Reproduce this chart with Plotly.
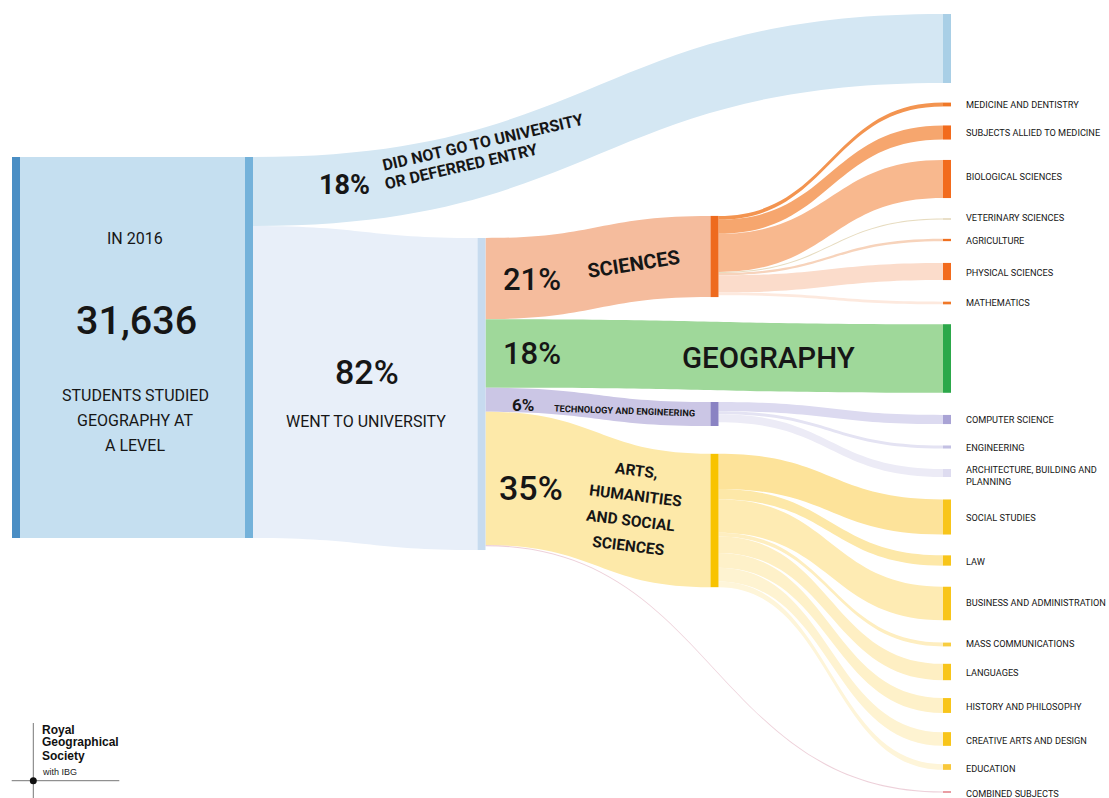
import plotly.graph_objects as go

W, H = 1109, 798

# ---------------- data (share of the 31,636 A-level geography students, %) ----------------
total_students = "31,636"
cohort_total = 100.0
did_not_go = 18.1
went_to_university = 81.9

uni_groups = ["Sciences", "Geography", "Technology and engineering",
              "Arts, humanities and social sciences", "Combined subjects"]
uni_group_values = [21.3, 18.0, 6.3, 35.0, 0.3]

science_subjects = ["MEDICINE AND DENTISTRY", "SUBJECTS ALLIED TO MEDICINE", "BIOLOGICAL SCIENCES",
                    "VETERINARY SCIENCES", "AGRICULTURE", "PHYSICAL SCIENCES", "MATHEMATICS"]
science_values = [1.0, 3.7, 10.0, 0.3, 0.6, 4.5, 0.7]

tech_subjects = ["COMPUTER SCIENCE", "ENGINEERING", "ARCHITECTURE, BUILDING AND<br>PLANNING"]
tech_values = [2.4, 0.8, 2.1]

arts_subjects = ["SOCIAL STUDIES", "LAW", "BUSINESS AND ADMINISTRATION", "MASS COMMUNICATIONS",
                 "LANGUAGES", "HISTORY AND PHILOSOPHY", "CREATIVE ARTS AND DESIGN", "EDUCATION"]
arts_values = [9.2, 2.7, 8.8, 1.0, 4.3, 3.9, 3.6, 1.5]

# ---------------- graph structure ----------------
A, B, DNG, UNI, SCI, GEO, TECH, ARTS, COMB = range(9)
sci0 = 9
tech0 = sci0 + len(science_subjects)
arts0 = tech0 + len(tech_subjects)
n_nodes = arts0 + len(arts_subjects)

src, tgt, val = [], [], []
def add(s, t, v):
    src.append(s); tgt.append(t); val.append(v)

add(A, B, cohort_total)
add(B, DNG, did_not_go)
add(B, UNI, went_to_university)
for t, v in zip([SCI, GEO, TECH, ARTS, COMB], uni_group_values):
    add(UNI, t, v)
for i, v in enumerate(science_values):
    add(SCI, sci0 + i, v)
for i, v in enumerate(tech_values):
    add(TECH, tech0 + i, v)
for i, v in enumerate(arts_values):
    add(ARTS, arts0 + i, v)

# ---------------- layout / style (pixels) ----------------
col_x = {"A": 16, "B": 249, "UNI": 481.5, "MID": 714.5, "END": 947}
node_xpx = [col_x["A"], col_x["B"], col_x["END"], col_x["UNI"], col_x["MID"], col_x["END"],
            col_x["MID"], col_x["MID"], col_x["END"]] + [col_x["END"]] * (n_nodes - 9)
node_ypx = [347.5, 347.5, 48.5, 394, 256.5, 358.5, 414, 520.5, 792,
            104.5, 132.5, 179, 219, 240, 271.5, 303,
            419.5, 447, 473,
            517, 560.5, 603.5, 644.5, 672, 705.5, 739, 767]

node_colors = ["#4a8ec4", "#74b2da", "#a9cfe6", "#c7dbef", "#ee6a1e", "#2ca84a", "#8a83c3", "#f8c300", "#d9535f",
               "#f07828", "#f26b1d", "#f26b1d", "#d8c8a0", "#f07020", "#f26b1d", "#f07828",
               "#a9a3d5", "#c3c0e3", "#dedcf0",
               "#f8c51a", "#f8c51a", "#f8c51a", "#f8cd40", "#f8c51a", "#f8c51a", "#f8c51a", "#f8c83a"]

link_colors = ["#c5dff0", "#d4e7f3", "#e8eff9",
               "#f5bc9d", "#9fd89a", "#cbc6e5", "#fde9a9", "rgba(215,150,170,0.45)",
               "#f39450", "#f6a66e", "#f8b88e", "#e7dcc0", "#f7d3bb", "#fbdccb", "#fde9de",
               "#dcdaf0", "#e4e3f3", "#ecebf6",
               "#fde39a", "#fde8a8", "#feebb3", "#feeec0", "#feefc3", "#fef1c9", "#fef3d1", "#fef5d9"]

# node scale: the sink column (21 nodes) sets px-per-unit; choose the pad so 100% = 381 px
ky = 381 / cohort_total
sink_sum = did_not_go + sum(science_values) + uni_group_values[1] + sum(tech_values) + sum(arts_values) + uni_group_values[4]
pad = (H - ky * sink_sum) / 20

fig = go.Figure(go.Sankey(
    arrangement="fixed",
    domain=dict(x=[0, 1], y=[0, 1]),
    node=dict(
        label=[""] * n_nodes,
        x=[x / W for x in node_xpx],
        y=[y / H for y in node_ypx],
        pad=pad,
        thickness=8,
        color=node_colors,
        line=dict(width=0),
        hoverinfo="none",
    ),
    link=dict(source=src, target=tgt, value=val, color=link_colors, hoverinfo="none"),
    textfont=dict(size=1, color="rgba(0,0,0,0)"),
))

FONT = "Roboto, sans-serif"
INK = "#161616"

def ann(text, x, y, size, bold=False, angle=0, align="center", xanchor="center",
        color=INK, family=FONT, weight=None):
    w = weight if weight is not None else ("bold" if bold else "normal")
    return dict(text=text, x=x / W, y=1 - y / H, xref="paper", yref="paper", showarrow=False,
                font=dict(size=size, family=family, color=color, weight=w),
                textangle=angle, align=align, xanchor=xanchor, yanchor="middle")

annotations = [
    ann("IN 2016", 135, 238, 16),
    ann(total_students, 136, 321, 39.5, weight=500),
    ann("STUDENTS STUDIED", 135, 395, 16),
    ann("GEOGRAPHY AT", 135, 420, 16),
    ann("A LEVEL", 135, 445, 16),
    ann("82%", 367, 372, 34, weight=500),
    ann("WENT TO UNIVERSITY", 366, 421, 16),
    ann("18%", 344, 185, 27, bold=True),
    ann("DID NOT GO TO UNIVERSITY", 482, 142, 16, bold=True, angle=-13),
    ann("OR DEFERRED ENTRY", 461, 166, 16, bold=True, angle=-13),
    ann("21%", 532, 279, 31, weight=500),
    ann("SCIENCES", 633, 264, 20, bold=True, angle=-9),
    ann("18%", 532, 354, 31, weight=500),
    ann("GEOGRAPHY", 768, 358, 29.5, weight=500),
    ann("6%", 523, 405, 17, bold=True),
    ann("TECHNOLOGY AND ENGINEERING", 624.5, 410.5, 9.2, bold=True, angle=2),
    ann("35%", 531, 488, 34, weight=500),
    ann("ARTS,", 636.5, 471, 15.5, bold=True, angle=7),
    ann("HUMANITIES", 635, 495.5, 15.5, bold=True, angle=7),
    ann("AND SOCIAL", 631, 521, 15.5, bold=True, angle=7),
    ann("SCIENCES", 627.5, 546, 15.5, bold=True, angle=7),
]

LBL = 9.2
label_y_sci = [104, 132, 177, 218, 240, 272, 302]
label_y_tech = [419, 447, 475]
label_y_arts = [517, 561, 602, 643, 672, 706, 740, 768]
for name, y in zip(science_subjects, label_y_sci):
    annotations.append(ann(name, 964, y, LBL, xanchor="left", align="left"))
for name, y in zip(tech_subjects, label_y_tech):
    annotations.append(ann(name, 964, y, LBL, xanchor="left", align="left"))
for name, y in zip(arts_subjects, label_y_arts):
    annotations.append(ann(name, 964, y, LBL, xanchor="left", align="left"))
annotations.append(ann("COMBINED SUBJECTS", 964, 793, LBL, xanchor="left", align="left"))

LOGO = "Liberation Sans, Arial, sans-serif"
annotations += [
    ann("Royal", 40, 729.5, 12, bold=True, xanchor="left", align="left", family=LOGO, color="#111"),
    ann("Geographical", 40, 742, 12, bold=True, xanchor="left", align="left", family=LOGO, color="#111"),
    ann("Society", 40, 755.5, 12, bold=True, xanchor="left", align="left", family=LOGO, color="#111"),
    ann("with IBG", 40, 772, 9, xanchor="left", align="left", family=LOGO, color="#222"),
]

def px(x): return x / W
def py(y): return 1 - y / H

shapes = [
    dict(type="line", xref="paper", yref="paper", x0=px(33.3), x1=px(33.3), y0=py(723), y1=py(798),
         line=dict(color="#777", width=1)),
    dict(type="line", xref="paper", yref="paper", x0=px(11.7), x1=px(119.3), y0=py(780.7), y1=py(780.7),
         line=dict(color="#777", width=1)),
    dict(type="circle", xref="paper", yref="paper", x0=px(29.8), x1=px(36.8), y0=py(784.2), y1=py(777.2),
         fillcolor="#111", line=dict(width=0)),
]

fig.update_layout(
    width=W, height=H,
    margin=dict(l=0, r=0, t=0, b=0),
    paper_bgcolor="white", plot_bgcolor="white",
    annotations=annotations, shapes=shapes,
    showlegend=False,
)

fig.write_html("out.html", post_script="document.body.style.margin='0';",
               config={"displayModeBar": False})
